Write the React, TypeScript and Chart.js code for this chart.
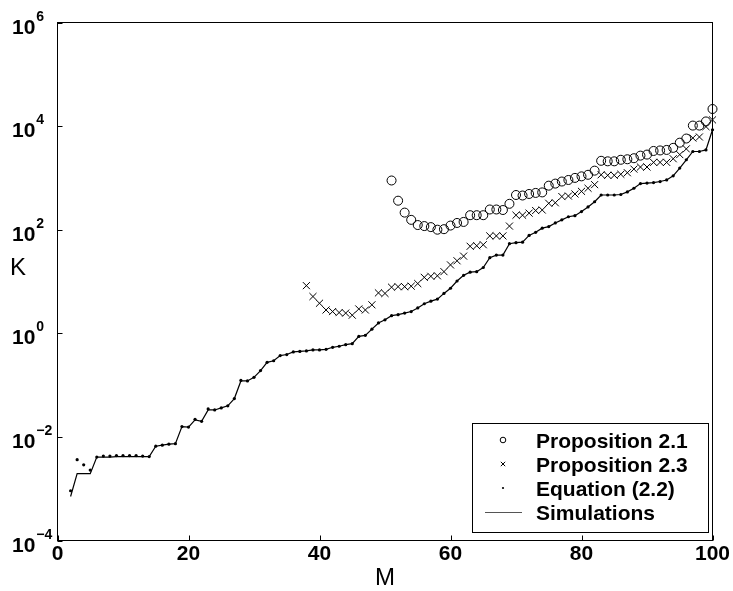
import React, { useEffect, useRef } from 'react';
import { Chart, registerables } from 'chart.js';

Chart.register(...registerables);

// Number of nodes M for the simulation / equation (2.2) curves
const mAll = [
  2, 3, 4, 5, 6, 7, 8, 9, 10, 11,
  12, 13, 14, 15, 16, 17, 18, 19, 20, 21,
  22, 23, 24, 25, 26, 27, 28, 29, 30, 31,
  32, 33, 34, 35, 36, 37, 38, 39, 40, 41,
  42, 43, 44, 45, 46, 47, 48, 49, 50, 51,
  52, 53, 54, 55, 56, 57, 58, 59, 60, 61,
  62, 63, 64, 65, 66, 67, 68, 69, 70, 71,
  72, 73, 74, 75, 76, 77, 78, 79, 80, 81,
  82, 83, 84, 85, 86, 87, 88, 89, 90, 91,
  92, 93, 94, 95, 96, 97, 98, 99, 100,
];

// log10(K)
const simulationsLog = [
  -3.15, -2.71, -2.71, -2.71, -2.39, -2.39, -2.39, -2.38, -2.38, -2.38,
  -2.38, -2.38, -2.38, -2.18, -2.16, -2.14, -2.13, -1.80, -1.81, -1.67,
  -1.70, -1.48, -1.48, -1.44, -1.40, -1.26, -0.92, -0.92, -0.85, -0.72,
  -0.56, -0.53, -0.43, -0.41, -0.36, -0.35, -0.34, -0.32, -0.32, -0.31,
  -0.27, -0.25, -0.22, -0.20, -0.06, -0.04, 0.08, 0.20, 0.26, 0.34,
  0.36, 0.39, 0.42, 0.49, 0.57, 0.62, 0.66, 0.77, 0.87, 1.01,
  1.12, 1.18, 1.19, 1.27, 1.46, 1.51, 1.51, 1.73, 1.75, 1.76,
  1.89, 1.95, 2.03, 2.06, 2.13, 2.19, 2.25, 2.27, 2.35, 2.44,
  2.54, 2.67, 2.67, 2.67, 2.68, 2.73, 2.80, 2.89, 2.90, 2.91,
  2.93, 2.96, 3.04, 3.19, 3.35, 3.51, 3.51, 3.54, 3.93,
];

const equationLog = [
  -3.04, -2.44, -2.54, -2.64, -2.39, -2.37, -2.37, -2.36, -2.36, -2.36,
  -2.36, -2.37, -2.38, -2.18, -2.16, -2.14, -2.13, -1.80, -1.81, -1.66,
  -1.70, -1.46, -1.48, -1.44, -1.40, -1.26, -0.91, -0.92, -0.85, -0.72,
  -0.56, -0.53, -0.43, -0.41, -0.36, -0.35, -0.34, -0.32, -0.32, -0.31,
  -0.27, -0.25, -0.22, -0.20, -0.06, -0.04, 0.08, 0.20, 0.26, 0.34,
  0.36, 0.39, 0.42, 0.49, 0.57, 0.62, 0.66, 0.77, 0.87, 1.01,
  1.12, 1.18, 1.19, 1.27, 1.46, 1.51, 1.51, 1.73, 1.75, 1.76,
  1.89, 1.95, 2.03, 2.06, 2.13, 2.19, 2.25, 2.27, 2.35, 2.44,
  2.54, 2.67, 2.67, 2.67, 2.68, 2.73, 2.80, 2.89, 2.90, 2.91,
  2.93, 2.96, 3.04, 3.19, 3.35, 3.51, 3.51, 3.54, 3.93,
];

const m23 = [
  38, 39, 40, 41, 42, 43, 44, 45, 46, 47,
  48, 49, 50, 51, 52, 53, 54, 55, 56, 57,
  58, 59, 60, 61, 62, 63, 64, 65, 66, 67,
  68, 69, 70, 71, 72, 73, 74, 75, 76, 77,
  78, 79, 80, 81, 82, 83, 84, 85, 86, 87,
  88, 89, 90, 91, 92, 93, 94, 95, 96, 97,
  98, 99, 100,
];
const prop23Log = [
  0.92, 0.71, 0.58, 0.45, 0.42, 0.40, 0.39, 0.35, 0.47, 0.45,
  0.55, 0.78, 0.77, 0.89, 0.90, 0.90, 0.91, 0.96, 1.08, 1.10,
  1.11, 1.19, 1.32, 1.40, 1.49, 1.68, 1.69, 1.71, 1.88, 1.88,
  1.88, 2.07, 2.28, 2.28, 2.32, 2.37, 2.38, 2.51, 2.52, 2.64,
  2.65, 2.69, 2.74, 2.80, 2.87, 3.06, 3.05, 3.05, 3.07, 3.10,
  3.17, 3.21, 3.21, 3.30, 3.30, 3.30, 3.37, 3.45, 3.56, 3.77,
  3.79, 3.99, 4.12,
];

const m21 = [
  51, 52, 53, 54, 55, 56, 57, 58, 59, 60,
  61, 62, 63, 64, 65, 66, 67, 68, 69, 70,
  71, 72, 73, 74, 75, 76, 77, 78, 79, 80,
  81, 82, 83, 84, 85, 86, 87, 88, 89, 90,
  91, 92, 93, 94, 95, 96, 97, 98, 99, 100,
];
const prop21Log = [
  2.95, 2.56, 2.33, 2.19, 2.09, 2.07, 2.05, 2.00, 2.01, 2.08,
  2.13, 2.15, 2.28, 2.28, 2.28, 2.39, 2.39, 2.38, 2.50, 2.67,
  2.66, 2.69, 2.71, 2.72, 2.85, 2.89, 2.93, 2.96, 3.00, 3.03,
  3.06, 3.14, 3.33, 3.32, 3.32, 3.35, 3.36, 3.38, 3.43, 3.45,
  3.52, 3.53, 3.54, 3.58, 3.68, 3.76, 4.01, 4.01, 4.09, 4.33,
];

const xTicks = [0, 20, 40, 60, 80, 100];
const yTickExponents = [-4, -2, 0, 2, 4, 6];
const legendLabels = ['Proposition 2.1', 'Proposition 2.3', 'Equation (2.2)', 'Simulations'];
const xTitle = 'M';
const yTitle = 'K';

const FONT = '"Liberation Sans", Arial, Helvetica, sans-serif';

const toPoints = (xs: number[], logs: number[]) =>
  xs.map((x, i) => ({ x, y: Math.pow(10, logs[i]) }));

const decorPlugin = {
  id: 'decor',
  afterDraw(chart: any) {
    const { ctx, chartArea: a, scales } = chart;
    const xs = scales.x;
    const ys = scales.y;
    ctx.save();
    ctx.strokeStyle = '#000';
    ctx.lineWidth = 1;
    // axes box
    ctx.strokeRect(a.left, a.top, a.right - a.left, a.bottom - a.top);
    // inward ticks
    const tl = 5;
    ctx.beginPath();
    xTicks.forEach((v) => {
      const px = Math.round(xs.getPixelForValue(v)) + 0.5;
      ctx.moveTo(px, a.bottom);
      ctx.lineTo(px, a.bottom - tl);
    });
    yTickExponents.forEach((e) => {
      const py = Math.round(ys.getPixelForValue(Math.pow(10, e))) + 0.5;
      ctx.moveTo(a.left, py);
      ctx.lineTo(a.left + tl, py);
    });
    ctx.stroke();

    // y tick labels 10^e
    ctx.fillStyle = '#000';
    ctx.textBaseline = 'alphabetic';
    ctx.textAlign = 'left';
    yTickExponents.forEach((e) => {
      const py = ys.getPixelForValue(Math.pow(10, e));
      ctx.font = `bold 21px ${FONT}`;
      const base = '10';
      const x0 = 12;
      ctx.fillText(base, x0, py + 11);
      const w = ctx.measureText(base).width;
      ctx.font = `bold 14px ${FONT}`;
      const expText = e < 0 ? '\u2212' + Math.abs(e) : String(e);
      ctx.fillText(expText, x0 + w + 1, py - 2);
    });

    // axis titles
    ctx.font = `24px ${FONT}`;
    ctx.textAlign = 'center';
    ctx.textBaseline = 'middle';
    ctx.fillText(yTitle, 18, 268);
    ctx.fillText(xTitle, (a.left + a.right) / 2, 578);

    // legend
    const bx = 472.5, by = 423.5, bw = 236, bh = 109;
    ctx.fillStyle = '#fff';
    ctx.fillRect(bx, by, bw, bh);
    ctx.strokeStyle = '#000';
    ctx.strokeRect(bx, by, bw, bh);
    const rows = [447.5, 471.5, 495.5, 519.5];
    const mx = 503;
    ctx.fillStyle = '#000';
    ctx.font = `bold 21px ${FONT}`;
    ctx.textAlign = 'left';
    ctx.textBaseline = 'alphabetic';
    legendLabels.forEach((lab, i) => {
      ctx.fillText(lab, 536, rows[i]);
    });
    const cy = rows.map((r) => r - 7.5);
    ctx.lineWidth = 1;
    ctx.strokeStyle = '#000';
    // circle
    ctx.beginPath();
    ctx.arc(mx, cy[0], 2.8, 0, Math.PI * 2);
    ctx.stroke();
    // cross
    ctx.beginPath();
    ctx.moveTo(mx - 2.2, cy[1] - 2.2);
    ctx.lineTo(mx + 2.2, cy[1] + 2.2);
    ctx.moveTo(mx + 2.2, cy[1] - 2.2);
    ctx.lineTo(mx - 2.2, cy[1] + 2.2);
    ctx.stroke();
    // dot
    ctx.beginPath();
    ctx.arc(mx, cy[2], 1.1, 0, Math.PI * 2);
    ctx.fill();
    // line
    ctx.strokeStyle = '#555';
    ctx.beginPath();
    ctx.moveTo(485, Math.round(cy[3]) + 0.5);
    ctx.lineTo(522, Math.round(cy[3]) + 0.5);
    ctx.stroke();
    ctx.restore();
  },
};

export default function App() {
  const ref = useRef<HTMLCanvasElement | null>(null);
  useEffect(() => {
    if (!ref.current) return;
    const chart = new Chart(ref.current, {
      type: 'scatter',
      data: {
        datasets: [
          {
            label: legendLabels[3],
            data: toPoints(mAll, simulationsLog),
            showLine: true,
            borderColor: '#000',
            borderWidth: 1.2,
            pointRadius: 0,
            tension: 0,
            clip: false,
          },
          {
            label: legendLabels[2],
            data: toPoints(mAll, equationLog),
            showLine: false,
            pointStyle: 'circle',
            pointRadius: 1.6,
            backgroundColor: '#000',
            borderColor: '#000',
            borderWidth: 0,
            clip: false,
          },
          {
            label: legendLabels[1],
            data: toPoints(m23, prop23Log),
            showLine: false,
            pointStyle: 'crossRot',
            pointRadius: 5,
            borderColor: '#000',
            borderWidth: 1,
            clip: false,
          },
          {
            label: legendLabels[0],
            data: toPoints(m21, prop21Log),
            showLine: false,
            pointStyle: 'circle',
            pointRadius: 4.5,
            backgroundColor: 'rgba(0,0,0,0)',
            borderColor: '#000',
            borderWidth: 1,
            clip: false,
          },
        ] as any,
      },
      options: {
        animation: false,
        responsive: false,
        maintainAspectRatio: false,
        layout: { padding: { top: 22.5, right: 20.5, left: 0, bottom: 0 } },
        plugins: { legend: { display: false }, tooltip: { enabled: false } },
        scales: {
          x: {
            type: 'linear',
            min: 0,
            max: 100,
            afterBuildTicks: (s: any) => {
              s.ticks = xTicks.map((v) => ({ value: v }));
            },
            ticks: {
              color: '#000',
              font: { family: FONT, size: 21, weight: 'bold' },
              padding: 1,
              maxRotation: 0,
              autoSkip: false,
            },
            grid: { display: false, drawTicks: false },
            border: { display: false },
            afterFit: (s: any) => {
              s.height = 50.5;
            },
          },
          y: {
            type: 'logarithmic',
            min: 1e-4,
            max: 1e6,
            afterBuildTicks: (s: any) => {
              s.ticks = yTickExponents.map((e) => ({ value: Math.pow(10, e) }));
            },
            ticks: { display: false },
            grid: { display: false, drawTicks: false },
            border: { display: false },
            afterFit: (s: any) => {
              s.width = 57.5;
            },
          },
        },
      } as any,
      plugins: [decorPlugin],
    });
    return () => chart.destroy();
  }, []);

  return (
    <div style={{ position: 'absolute', left: 0, top: 0, width: 733, height: 591, background: '#fff' }}>
      <canvas ref={ref} width={733} height={591} style={{ width: 733, height: 591, display: 'block' }} />
    </div>
  );
}
